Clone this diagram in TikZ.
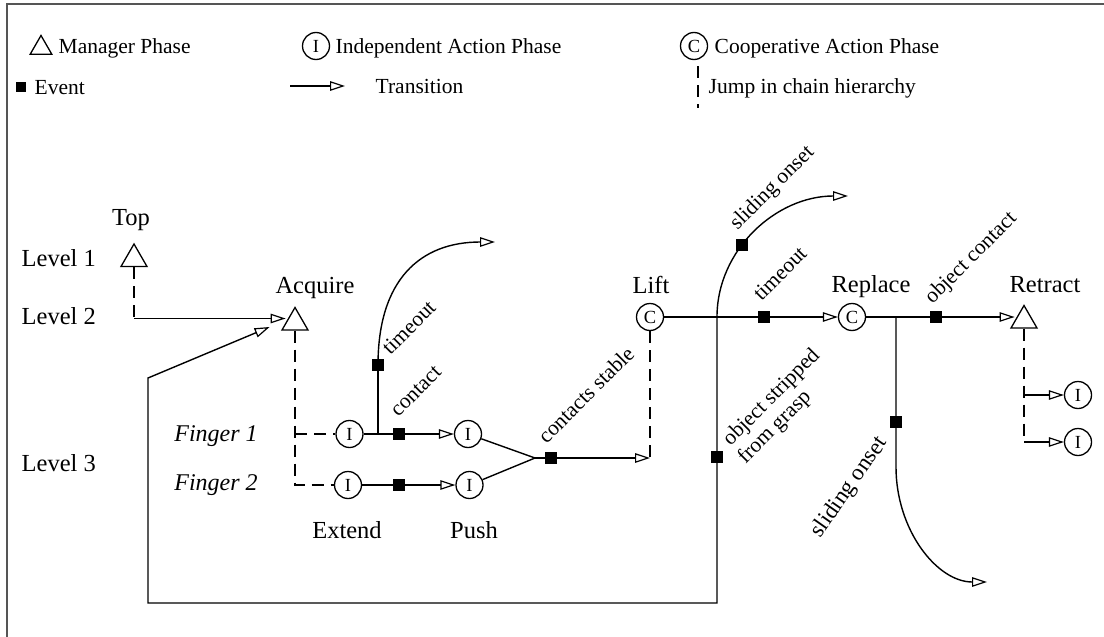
\documentclass[tikz,border=0pt]{standalone}
\usepackage{fontspec}
\setmainfont{Liberation Serif}
\usetikzlibrary{arrows.meta,shapes.geometric}
\definecolor{framegray}{RGB}{85,85,85}
\begin{document}
\begin{tikzpicture}[x=1pt,y=-1pt,line width=1.4pt,
  tip/.style={-{Triangle[open,length=15pt,width=9.5pt,line width=1.2pt]}},
  jump/.style={dash pattern=on 12pt off 7pt},
  lbl/.style={font=\fontsize{24.5}{26}\selectfont,inner sep=0pt},
  leg/.style={font=\fontsize{21.5}{24}\selectfont,inner sep=0pt},
  ital/.style={font=\fontsize{24}{26}\selectfont\itshape,inner sep=0pt},
  rl/.style={font=\fontsize{21.5}{23}\selectfont,inner sep=0pt,rotate=45},
  mgr/.style={draw,regular polygon,regular polygon sides=3,minimum size=30pt,inner sep=0pt,line width=1.3pt},
  ph/.style={draw,circle,minimum size=27pt,inner sep=0pt,line width=1.3pt,font=\fontsize{18.5}{19}\selectfont},
  ev/.style={rectangle,fill=black,draw=none,minimum size=12pt,inner sep=0pt}]
\useasboundingbox (0,0) rectangle (1104,637);
\fill[white] (0,0) rectangle (1104,637);
% frame
\draw[framegray,line width=2.2pt] (7,637) -- (7,4) -- (1104,4);

% ---------- legend ----------
\node[mgr,minimum size=25pt] (lgM) at (41,48) {};
\node[leg,anchor=base west] (lgMt) at (58,53) {Manager Phase};
\node[ph] (lgI) at (316,46) {I};
\node[leg,anchor=base west] (lgIt) at (335,53) {Independent Action Phase};
\node[ph] (lgC) at (694,46) {C};
\node[leg,anchor=base west] (lgCt) at (714,53) {Cooperative Action Phase};
\node[ev,minimum size=10.5pt] (lgE) at (21,87) {};
\node[leg,anchor=base west] (lgEt) at (34,94) {Event};
\coordinate (lgA1) at (290,86);
\coordinate (lgA2) at (345,86);
\draw[tip] (lgA1) -- (lgA2);
\node[leg,anchor=base west] (lgAt) at (375,93) {Transition};
\coordinate (lgJ1) at (698,66);
\coordinate (lgJ2) at (698,108);
\draw[jump] (lgJ1) -- (lgJ2);
\node[leg,anchor=base west] (lgJt) at (708,93) {Jump in chain hierarchy};

% ---------- level labels ----------
\node[lbl,anchor=base west] (lv1) at (21,266) {Level 1};
\node[lbl,anchor=base west] (lv2) at (21,324) {Level 2};
\node[lbl,anchor=base west] (lv3) at (21,471) {Level 3};
\node[ital,anchor=base] (f1) at (216,441) {Finger 1};
\node[ital,anchor=base] (f2) at (216,490) {Finger 2};

% ---------- phases ----------
\node[mgr] (tp) at (134,259) {};
\node[lbl,anchor=base] (tpt) at (131,225) {Top};
\node[mgr] (acq) at (295,322.5) {};
\node[lbl,anchor=base] (acqt) at (315,293) {Acquire};
\node[ph] (e1) at (349.5,434) {I};
\node[ph] (e2) at (348,485) {I};
\node[ph] (p1) at (468,434) {I};
\node[ph] (p2) at (469.5,485) {I};
\node[lbl,anchor=base] (ext) at (347,538) {Extend};
\node[lbl,anchor=base] (psh) at (474,538) {Push};
\node[ph] (lift) at (650,317) {C};
\node[lbl,anchor=base] (liftt) at (651,293) {Lift};
\node[ph] (rep) at (852,317) {C};
\node[lbl,anchor=base] (rept) at (871,292) {Replace};
\node[mgr] (ret) at (1024,320.5) {};
\node[lbl,anchor=base] (rett) at (1045,292) {Retract};
\node[ph] (ri1) at (1078,395) {I};
\node[ph] (ri2) at (1078,442) {I};

% ---------- helper coordinates ----------
\coordinate (acqL) at ([yshift=4pt]acq.west);
\coordinate (acqD) at ([xshift=-16pt,yshift=-4.5pt]acq.west);
\coordinate (j1) at (378,434);
\coordinate (toA) at (495,242);
\coordinate (m) at (535,458);
\coordinate (liftin) at (650,458);
\coordinate (jL) at (717,317);
\coordinate (slA) at (848,196);
\coordinate (lpA) at (717,603);
\coordinate (lpB) at (148,603);
\coordinate (lpC) at (148,378);
\coordinate (jR) at (896,317);
\coordinate (jRc) at (896,467);
\coordinate (slB) at (987,582);
\coordinate (retL) at ([yshift=3.5pt]ret.west);
\coordinate (rb1) at (ret.south |- ri1);
\coordinate (rb2) at (ret.south |- ri2);

% ---------- connectors ----------
\draw[jump] (tp.south) -- (tp.south |- acqL);
\draw[tip] (tp.south |- acqL) -- (acqL);
\draw[jump] (acq.south) |- (e2);
\draw[jump] (acq.south |- e1) -- (e1);
\draw[tip] (e1) -- (p1);
\draw[tip] (e2) -- (p2);
\draw (j1) -- (378,365);
\draw[tip] (378,365) .. controls (378,280) and (420,242) .. (toA);
\draw (p1) -- (m);
\draw (p2) -- (m);
\draw[tip] (m) -- (liftin);
\draw[jump] (lift.south) -- (liftin);
\draw[tip] (lift) -- (rep);
\draw[tip] (jL) .. controls (717,250) and (776,196) .. (slA);
\draw[tip] (jL) -- (lpA) -- (lpB) -- (lpC) -- (acqD);
\draw[tip] (rep) -- (retL);
\draw[tip] (jR) -- (jRc) .. controls (896,530) and (937,582) .. (slB);
\draw[jump] (ret.south) -- (rb2);
\draw[tip] (rb1) -- (ri1);
\draw[tip] (rb2) -- (ri2);

% ---------- events ----------
\node[ev] (evc) at (399,434) {};
\node[ev] (ev2) at (399,485) {};
\node[ev] (evto) at (378,365) {};
\node[ev] (evcs) at (551,458) {};
\node[ev] (evsl) at (742,245) {};
\node[ev] (evto2) at (764,317) {};
\node[ev] (evos) at (717,457) {};
\node[ev] (evoc) at (936,317) {};
\node[ev] (evsl2) at (896,422) {};

% ---------- event labels ----------
\node[rl,anchor=base west] (lto) at (390,356) {timeout};
\node[rl,anchor=base west] (lc) at (398,418) {contact};
\node[rl,anchor=base west] (lcs) at (546,445) {contacts stable};
\node[rl,anchor=base west] (lsl) at (737,231) {sliding onset};
\node[rl,anchor=base west] (lto2) at (761,302) {timeout};
\node[rl,anchor=base west] (loc) at (932,305) {object contact};
\node[rl,anchor=base west] (los1) at (730,447) {object stripped};
\node[rl,anchor=base west] (los2) at (745,465) {from grasp};
\node[rl,rotate=10,anchor=base east,font=\fontsize{23}{24}\selectfont] (lsl2) at (888,442) {sliding onset};
\end{tikzpicture}
\end{document}
